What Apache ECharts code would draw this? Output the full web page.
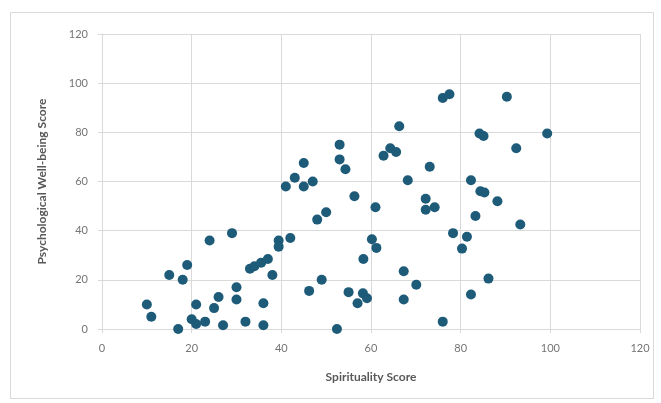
<!DOCTYPE html>
<html>
<head>
<meta charset="utf-8">
<script src="https://cdn.jsdelivr.net/npm/echarts@6/dist/echarts.min.js"></script>
<style>
html,body{margin:0;padding:0;background:#fff;}
#chart{width:661px;height:403px;}
</style>
</head>
<body>
<div id="chart"></div>
<script>
const xTitle = 'Spirituality Score';
const yTitle = 'Psychological Well-being Score';
const spirituality = [10,11,17,15,18,19,24,29,21,20,21,23,25,26,27,30,30,32,36,36,33,34,35.5,37,38,39.4,39.4,42,41,43,45,47,45,53,53,54.3,56.3,61,50,48,68.2,72.2,72.2,74.2,73.1,62.8,64.3,65.6,66.3,76,77.5,90.3,84.2,85.1,99.3,92.4,82.3,84.4,85.3,88.2,83.3,93.3,78.3,81.4,80.3,60.2,61.2,58.3,67.3,70.1,67.3,49,46.2,55,58.2,59.1,57,52.4,76,82.3,86.2];
const wellbeing = [10,5,0,22,20,26,36,39,10,4,2,3,8.5,13,1.5,17,12,3,10.5,1.5,24.5,25.5,27,28.5,22,36,33.5,37,58,61.5,58,60,67.5,75,69,65,54,49.5,47.5,44.5,60.5,53,48.5,49.5,66,70.5,73.5,72,82.5,94,95.5,94.5,79.5,78.5,79.5,73.5,60.5,56,55.5,52,46,42.5,39,37.5,32.7,36.5,33,28.5,23.5,18,12,20,15.5,15,14.5,12.5,10.5,0,3,14,20.5];
const xTicks = [0,20,40,60,80,100,120];
const yTicks = [0,20,40,60,80,100,120];

const points = spirituality.map((x,i)=>[x, wellbeing[i]]);
const chart = echarts.init(document.getElementById('chart'), null, {renderer:'canvas'});
const fontFamily = 'Lato, "Noto Sans", sans-serif';
chart.setOption({
  animation:false,
  backgroundColor:'#fff',
  graphic:[{type:'rect', shape:{x:10.5,y:12.5,width:643,height:386}, style:{fill:'none', stroke:'#d9d9d9', lineWidth:1}, silent:true}],
  grid:{left:102,right:21,top:34,bottom:74},
  xAxis:{
    type:'value', min:xTicks[0], max:xTicks[xTicks.length-1], interval:20,
    name:xTitle, nameLocation:'middle', nameGap:42,
    nameTextStyle:{color:'#595959', fontWeight:'bold', fontSize:12, fontFamily},
    axisLine:{show:true, lineStyle:{color:'#d9d9d9'}},
    axisTick:{show:true, length:4, lineStyle:{color:'#d9d9d9'}},
    axisLabel:{color:'#757575', fontSize:11, margin:14, fontFamily},
    splitLine:{show:true, lineStyle:{color:'#d9d9d9'}}
  },
  yAxis:{
    type:'value', min:yTicks[0], max:yTicks[yTicks.length-1], interval:20,
    name:yTitle, nameLocation:'middle', nameGap:54,
    nameTextStyle:{color:'#595959', fontWeight:'bold', fontSize:12, fontFamily},
    axisLine:{show:true, lineStyle:{color:'#d9d9d9'}},
    axisTick:{show:true, length:4, lineStyle:{color:'#d9d9d9'}},
    axisLabel:{color:'#757575', fontSize:11, margin:14, fontFamily},
    splitLine:{show:true, lineStyle:{color:'#d9d9d9'}}
  },
  series:[{
    type:'scatter', data:points, symbolSize:10,
    itemStyle:{color:'#1d5b79', opacity:1}
  }]
});
</script>
</body>
</html>
